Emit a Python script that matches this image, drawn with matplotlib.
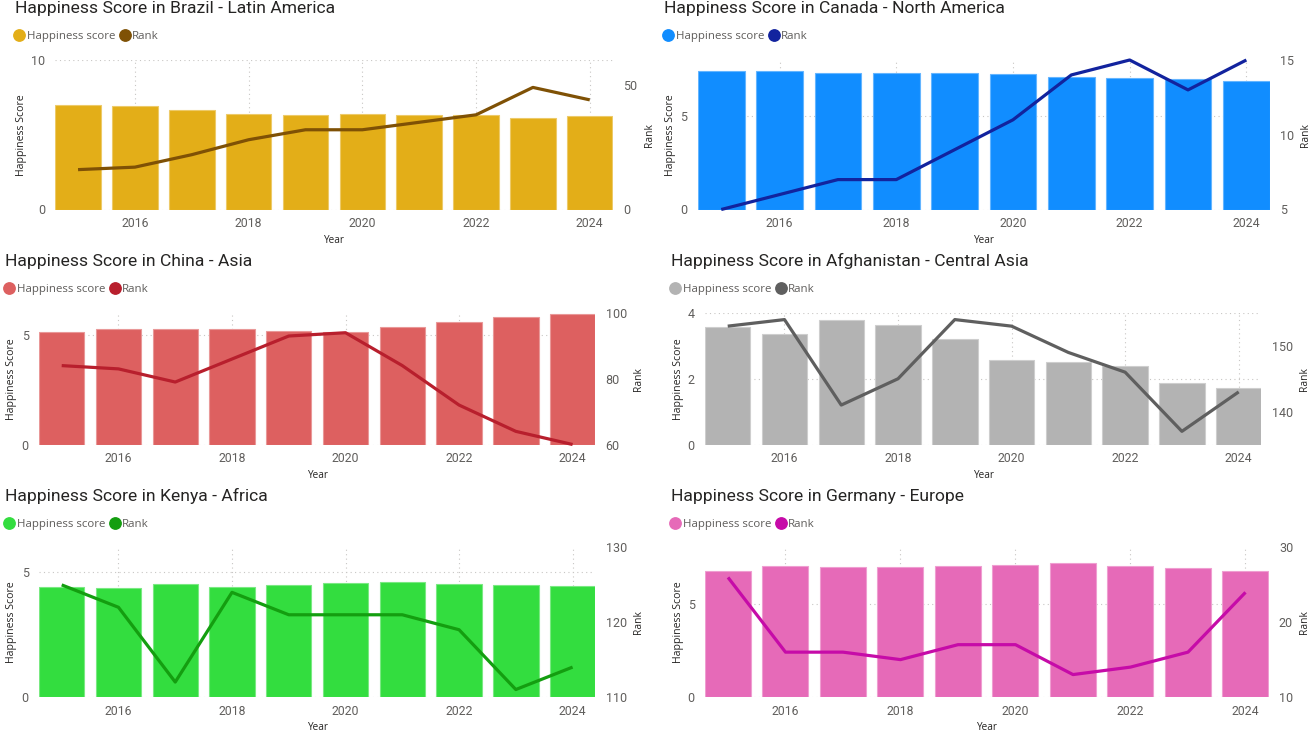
import matplotlib
matplotlib.use("Agg")
import matplotlib.pyplot as plt
from matplotlib.lines import Line2D
from matplotlib.transforms import IdentityTransform
from matplotlib.colors import to_rgb

years = [2015, 2016, 2017, 2018, 2019, 2020, 2021, 2022, 2023, 2024]
even_years = [2016, 2018, 2020, 2022, 2024]

brazil_score = [6.98, 6.95, 6.64, 6.42, 6.30, 6.38, 6.33, 6.29, 6.13, 6.27]
brazil_rank = [16, 17, 22, 28, 32, 32, 35, 38, 49, 44]
canada_score = [7.43, 7.40, 7.32, 7.33, 7.28, 7.23, 7.10, 7.03, 6.96, 6.90]
canada_rank = [5, 6, 7, 7, 9, 11, 14, 15, 13, 15]
china_score = [5.14, 5.25, 5.27, 5.25, 5.19, 5.12, 5.34, 5.59, 5.82, 5.97]
china_rank = [84, 83, 79, 86, 93, 94, 84, 72, 64, 60]
afghan_score = [3.58, 3.36, 3.79, 3.63, 3.20, 2.57, 2.52, 2.40, 1.86, 1.72]
afghan_rank = [153, 154, 141, 145, 154, 153, 149, 146, 137, 143]
kenya_score = [4.42, 4.36, 4.55, 4.41, 4.51, 4.58, 4.61, 4.54, 4.49, 4.47]
kenya_rank = [125, 122, 112, 124, 121, 121, 121, 119, 111, 114]
germany_score = [6.75, 6.99, 6.95, 6.97, 6.99, 7.08, 7.16, 7.03, 6.89, 6.72]
germany_rank = [26, 16, 16, 15, 17, 17, 13, 14, 16, 24]

W, H = 1312, 733
TITLE_FONT = "Roboto"
TICK_FONT = "Roboto"
LABEL_FONT = "Open Sans"
TICK_COL = "#605E5C"
AX_COL = "#252423"
GRID_COL = "#C8C6C4"

panels = [
    dict(title="Happiness Score in Brazil - Latin America", score=brazil_score, rank=brazil_rank,
         box=(55.3, 612.5, 60, 209.5), ylim=(0, 10), yticks=[0, 10], rlim=(0, 60), rticks=[0, 50],
         bar="#E3AE18", line="#7F5105", tx=15, ty=13, ly=36.5, yl=22, rl=649),
    dict(title="Happiness Score in Canada - North America", score=canada_score, rank=canada_rank,
         box=(697.9, 1269.7, 60, 209.5), ylim=(0, 8), yticks=[0, 5], rlim=(5, 15), rticks=[5, 10, 15],
         bar="#118DFF", line="#12239E", tx=664, ty=13, ly=36.5, yl=671, rl=1305.5),
    dict(title="Happiness Score in China - Asia", score=china_score, rank=china_rank,
         box=(39, 595.3, 313, 444.5), ylim=(0, 6), yticks=[0, 5], rlim=(60, 100), rticks=[60, 80, 100],
         bar="#DD6060", line="#B81F2D", tx=5, ty=266, ly=289.5, yl=11.5, rl=639),
    dict(title="Happiness Score in Afghanistan - Central Asia", score=afghan_score, rank=afghan_rank,
         box=(705, 1261.4, 313, 444.5), ylim=(0, 4), yticks=[0, 2, 4], rlim=(135, 155), rticks=[140, 150],
         bar="#B3B3B3", line="#5F5F5F", tx=671, ty=266, ly=289.5, yl=678, rl=1305),
    dict(title="Happiness Score in Kenya - Africa", score=kenya_score, rank=kenya_rank,
         box=(39, 595.3, 547.5, 697), ylim=(0, 6), yticks=[0, 5], rlim=(110, 130), rticks=[110, 120, 130],
         bar="#33DD3F", line="#149E10", tx=5, ty=501, ly=524.5, yl=11.5, rl=639),
    dict(title="Happiness Score in Germany - Europe", score=germany_score, rank=germany_rank,
         box=(705, 1268.5, 547.5, 697), ylim=(0, 8), yticks=[0, 5], rlim=(10, 30), rticks=[10, 20, 30],
         bar="#E66AB8", line="#C60BA8", tx=671, ty=501, ly=524.5, yl=678, rl=1305),
]


def lighten(col, f=0.35):
    return tuple(c + (1 - c) * f for c in to_rgb(col))


fig = plt.figure(figsize=(W / 100, H / 100), dpi=100, facecolor="white")

for p in panels:
    left, right, top, bottom = p["box"]
    ax = fig.add_axes([left / W, 1 - bottom / H, (right - left) / W, (bottom - top) / H])
    ax.bar(years, p["score"], width=0.8, color=p["bar"], edgecolor=lighten(p["bar"]),
           linewidth=0.8, zorder=2)
    ax.set_xlim(2014.6, 2024.4)
    ax.set_ylim(*p["ylim"])
    ax.set_xticks(even_years)
    ax.set_yticks(p["yticks"])
    ax.set_axisbelow(True)
    ax.grid(True, color=GRID_COL, linestyle=(0, (1, 3)), linewidth=0.8)
    for s in ax.spines.values():
        s.set_visible(False)
    ax.tick_params(axis="x", length=0, pad=5.5, labelsize=8.8, labelcolor=TICK_COL)
    ax.tick_params(axis="y", length=0, pad=7.5, labelsize=9, labelcolor=TICK_COL)
    for t in ax.get_xticklabels() + ax.get_yticklabels():
        t.set_fontfamily(TICK_FONT)
    ax.set_xlabel("Year", fontfamily=LABEL_FONT, fontsize=7.2, color=AX_COL, labelpad=3.5)
    ax.set_ylabel("Happiness Score", fontfamily=LABEL_FONT, fontsize=7.6, color=AX_COL, va="center")
    ax.yaxis.set_label_coords((p["yl"] - left) / (right - left), 0.5)

    ax2 = ax.twinx()
    ax2.plot(years, p["rank"], color=p["line"], linewidth=2.3, solid_capstyle="butt",
             solid_joinstyle="round", clip_on=False, zorder=3)
    ax2.set_ylim(*p["rlim"])
    ax2.set_yticks(p["rticks"])
    for s in ax2.spines.values():
        s.set_visible(False)
    ax2.tick_params(axis="y", length=0, pad=7.5, labelsize=9, labelcolor=TICK_COL)
    for t in ax2.get_yticklabels():
        t.set_fontfamily(TICK_FONT)
    ax2.set_ylabel("Rank", fontfamily=LABEL_FONT, fontsize=7.4, color=AX_COL, va="center")
    ax2.yaxis.label.set_va("center")
    ax2.yaxis.set_label_coords((p["rl"] - left) / (right - left), 0.5)

    fig.text(p["tx"] / W, 1 - p["ty"] / H, p["title"], fontfamily=TITLE_FONT, fontsize=12.6,
             color="#252423", ha="left", va="baseline")

    handles = [Line2D([], [], linestyle="none", marker="o", markersize=8.2, color=p["bar"], label="Happiness score"),
               Line2D([], [], linestyle="none", marker="o", markersize=8.2, color=p["line"], label="Rank")]
    ax2.legend(handles=handles, ncol=2, frameon=False, loc="center left",
               bbox_to_anchor=(p["tx"] - 0.5, H - p["ly"]), bbox_transform=IdentityTransform(),
               prop={"family": LABEL_FONT, "size": 8.25}, labelcolor=TICK_COL,
               handlelength=0.85, handletextpad=0.2, columnspacing=0.45, borderpad=0, borderaxespad=0)

fig.savefig("out.png", dpi=100, facecolor="white")
